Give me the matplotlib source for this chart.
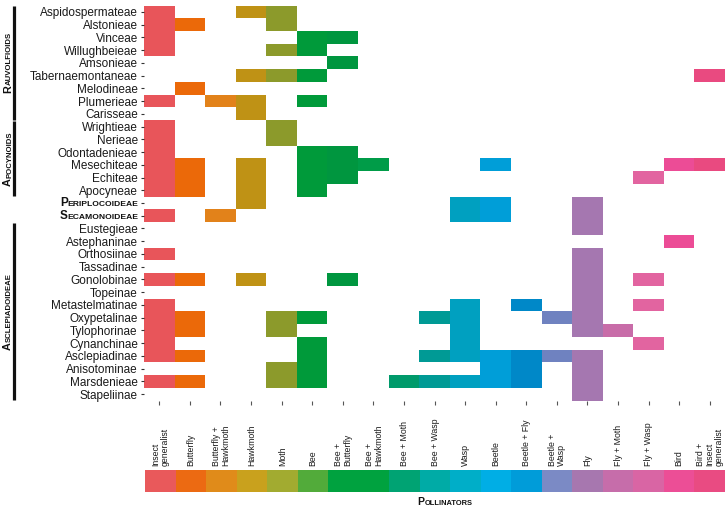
import matplotlib
matplotlib.use('Agg')
import matplotlib.pyplot as plt
from matplotlib.transforms import IdentityTransform, blended_transform_factory

plt.rcParams['font.family'] = ['Liberation Sans', 'DejaVu Sans']

# tribes / subtribes, top to bottom
tribes = ['Aspidospermateae', 'Alstonieae', 'Vinceae', 'Willughbeieae', 'Amsonieae',
          'Tabernaemontaneae', 'Melodineae', 'Plumerieae', 'Carisseae', 'Wrightieae',
          'Nerieae', 'Odontadenieae', 'Mesechiteae', 'Echiteae', 'Apocyneae',
          'Periplocoideae', 'Secamonoideae', 'Eustegieae', 'Astephaninae', 'Orthosiinae',
          'Tassadinae', 'Gonolobinae', 'Topeinae', 'Metastelmatinae', 'Oxypetalinae',
          'Tylophorinae', 'Cynanchinae', 'Asclepiadinae', 'Anisotominae', 'Marsdenieae',
          'Stapeliinae']
subfamilies = ['Periplocoideae', 'Secamonoideae']

pollinators = ['Insect\ngeneralist', 'Butterfly', 'Butterfly +\nHawkmoth', 'Hawkmoth', 'Moth',
               'Bee', 'Bee +\nButterfly', 'Bee +\nHawkmoth', 'Bee + Moth', 'Bee + Wasp',
               'Wasp', 'Beetle', 'Beetle + Fly', 'Beetle +\nWasp', 'Fly', 'Fly + Moth',
               'Fly + Wasp', 'Bird', 'Bird +\nInsect\ngeneralist']

tile_colors = ['#E8555A', '#EB6909', '#E2821A', '#BF9215', '#8C9A2B', '#009A3A', '#00963F',
               '#009C48', '#009A6B', '#009A95', '#00A0C0', '#009ED8', '#0088C8', '#6F82C0',
               '#A577B0', '#C86CA8', '#E264A0', '#EC4C96', '#E94A80']
bar_colors = ['#E9595B', '#EC6A12', '#E08B1A', '#C9A11D', '#A2AB30', '#52AB3A', '#00A23F',
              '#00A23F', '#00A373', '#00ABA6', '#00AEC8', '#00AEE5', '#009CD9', '#7B8AC5',
              '#A777AF', '#C66DAA', '#D965A4', '#EC4E96', '#E94B82']

# pollinator columns recorded for each tribe (index into pollinators)
visits = [
    [0, 3, 4], [0, 1, 4], [0, 5, 6], [0, 4, 5], [6],
    [3, 4, 5, 18], [1], [0, 2, 3, 5], [3], [0, 4],
    [0, 4], [0, 5, 6], [0, 1, 3, 5, 6, 7, 11, 17, 18], [0, 1, 3, 5, 6, 16], [0, 1, 3, 5],
    [3, 10, 11, 14], [0, 2, 10, 11, 14], [14], [17], [0, 14],
    [14], [0, 1, 3, 6, 14, 16], [14], [0, 10, 12, 14, 16], [0, 1, 4, 5, 9, 10, 13, 14],
    [0, 1, 4, 10, 14, 15], [0, 5, 10, 16], [0, 1, 5, 9, 10, 11, 12, 13, 14], [4, 5, 11, 12, 14],
    [0, 1, 4, 5, 8, 9, 10, 11, 12, 14], [14],
]

groups = [('Rauvolfioids', 0, 8), ('Apocynoids', 9, 14), ('Asclepiadoideae', 17, 30)]

fig = plt.figure(figsize=(7.28, 5.08), dpi=100)
ax = fig.add_axes([144 / 728, 1 - 400.5 / 508, 581 / 728, 395 / 508])

for i, cols in enumerate(visits):
    for j in cols:
        ax.bar(j, 1, bottom=i - 0.5, width=1, color=tile_colors[j], linewidth=0)

ax.set_xlim(-0.5, len(pollinators) - 0.5)
ax.set_ylim(len(tribes) - 0.5, -0.5)
ax.set_yticks(range(len(tribes)))
ax.set_yticklabels(['' if t in subfamilies else t for t in tribes])
ax.set_xticks(range(len(pollinators)))
ax.set_xticklabels([])
ax.tick_params(axis='y', length=2.5, width=0.8, color='#333333', pad=2, labelsize=8.5,
               labelcolor='#1a1a1a')
ax.tick_params(axis='x', length=3, width=0.8, color='#555555')
for s in ax.spines.values():
    s.set_visible(False)

# colour key under the grid
cax = fig.add_axes([145 / 728, 1 - 492 / 508, 580 / 728, 22 / 508])
for j, c in enumerate(bar_colors):
    cax.bar(j, 1, width=1, color=c, linewidth=0)
cax.set_xlim(-0.5, len(pollinators) - 0.5)
cax.set_ylim(0, 1)
cax.axis('off')
for j, lab in enumerate(pollinators):
    cax.annotate(lab, xy=(j, 1), xycoords=('data', 'axes fraction'), xytext=(0, 3),
                 textcoords='offset points', rotation=90, ha='center', va='bottom',
                 multialignment='left', fontsize=6.3, color='#1a1a1a', linespacing=1.05,
                 annotation_clip=False)

renderer = fig.canvas.get_renderer()


def small_caps(x, y, word, big, small, rotation=0, ha='center'):
    # first letter large, rest in smaller capitals, placed in pixel coords
    head = fig.text(0, 0, word[0], fontsize=big, fontweight='bold', transform=IdentityTransform(),
                    rotation_mode='anchor', ha='left', va='baseline', color='#111111')
    tail = fig.text(0, 0, word[1:].upper(), fontsize=small, fontweight='bold',
                    transform=IdentityTransform(), rotation_mode='anchor', ha='left',
                    va='baseline', color='#111111')
    w1 = head.get_window_extent(renderer).width
    w2 = tail.get_window_extent(renderer).width
    start = -(w1 + w2) / 2 if ha == 'center' else -(w1 + w2)
    if rotation == 90:
        head.set_position((x, y + start))
        tail.set_position((x, y + start + w1))
    else:
        head.set_position((x + start, y))
        tail.set_position((x + start + w1, y))
    head.set_rotation(rotation)
    tail.set_rotation(rotation)


# group bars and labels on the left
bar_tr = blended_transform_factory(fig.transFigure, ax.transData)
for name, r0, r1 in groups:
    ax.plot([13.5 / 728, 13.5 / 728], [r0 - 0.45, r1 + 0.45], color='#111111', lw=2.3,
            transform=bar_tr, clip_on=False, solid_capstyle='butt')
    yc = ax.transData.transform((0, (r0 + r1) / 2))[1]
    small_caps(11, yc, name, 7.8, 5.6, rotation=90)

# subfamily names written as tick labels
for name in subfamilies:
    yc = ax.transData.transform((0, tribes.index(name)))[1]
    small_caps(138.5, yc - 3.5, name, 8.5, 6.1, ha='right')

small_caps(445, 3, 'Pollinators', 7.5, 5.4)

fig.savefig('out.png', dpi=100)
